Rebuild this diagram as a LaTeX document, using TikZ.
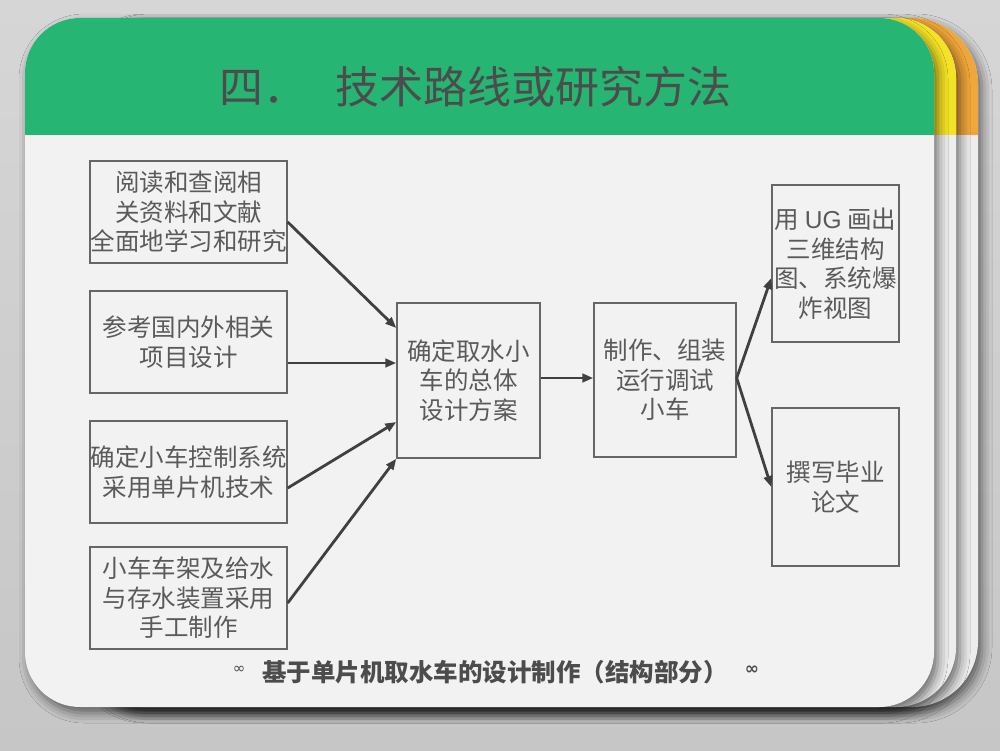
\documentclass[tikz,border=0pt]{standalone}
\usepackage{fontspec}
\newfontfamily\cjk{Noto Sans CJK SC}
\newfontfamily\dejavu{DejaVu Sans}
\setsansfont{Liberation Sans}
\usetikzlibrary{arrows.meta,shadows.blur}
\definecolor{bgtop}{HTML}{D6D6D6}
\definecolor{bgbot}{HTML}{C6C6C6}
\definecolor{cardbody}{HTML}{F2F2F2}
\definecolor{backbody}{HTML}{EDEDED}
\definecolor{hdgreen}{HTML}{26B573}
\definecolor{hdyellow}{HTML}{F3E226}
\definecolor{hdorange}{HTML}{EFA63A}
\definecolor{txtgrey}{HTML}{5A5A5A}
\definecolor{boxline}{HTML}{666666}
\definecolor{arrowgrey}{HTML}{404040}
\definecolor{titlegrey}{HTML}{4C4C4C}
\tikzset{
  cardshadow/.style={blur shadow={shadow xshift=4pt, shadow yshift=-6pt, shadow blur radius=10pt, shadow opacity=55}},
  flowbox/.style={draw=boxline, line width=1.4pt, fill=none, inner sep=0pt,
    align=center, text=txtgrey, font=\cjk\fontsize{24.5}{29.5}\selectfont},
  flowarrow/.style={draw=arrowgrey, line width=2.8pt, -{Triangle[length=11pt,width=8.5pt]}},
}
\begin{document}
\begin{tikzpicture}[x=1pt,y=-1pt]
\useasboundingbox (0,0) rectangle (1000,750);
\shade[top color=bgtop, bottom color=bgbot] (0,0) rectangle (1000,750);

% back card (orange)
\path[cardshadow, fill=backbody, rounded corners=66pt] (80,18) rectangle (978,707);
\begin{scope}
  \clip[rounded corners=66pt] (80,18) rectangle (978,707);
  \fill[hdorange] (0,0) rectangle (1000,135);
\end{scope}
% back card (yellow)
\path[cardshadow, fill=backbody, rounded corners=60pt] (80,18) rectangle (956,707);
\begin{scope}
  \clip[rounded corners=60pt] (80,18) rectangle (956,707);
  \fill[hdyellow] (0,0) rectangle (1000,135);
\end{scope}
% main card
\path[cardshadow, fill=cardbody, rounded corners=55pt] (25,18) rectangle (934,707);
\begin{scope}
  \clip[rounded corners=55pt] (25,18) rectangle (934,707);
  \fill[hdgreen] (0,0) rectangle (1000,135);
\end{scope}

% title
\node[anchor=west, inner sep=0pt, text=titlegrey, font=\cjk\fontsize{44}{44}\selectfont]
  (title) at (219,87) {四．\hspace{28pt}技术路线或研究方法};

% left column
\node[flowbox, minimum width=197pt, minimum height=102pt] (b1) at (188.5,212)
  {阅读和查阅相\\关资料和文献\\全面地学习和研究};
\node[flowbox, minimum width=197pt, minimum height=102pt] (b2) at (188.5,342)
  {参考国内外相关\\项目设计};
\node[flowbox, minimum width=197pt, minimum height=102pt] (b3) at (188.5,472)
  {确定小车控制系统\\采用单片机技术};
\node[flowbox, minimum width=197pt, minimum height=102pt] (b4) at (188.5,598)
  {小车车架及给水\\与存水装置采用\\手工制作};

% middle
\node[flowbox, minimum width=143pt, minimum height=155pt] (c1) at (468.5,380.5)
  {确定取水小\\车的总体\\设计方案};
\node[flowbox, minimum width=142pt, minimum height=154pt] (c2) at (665,380)
  {制作、组装\\运行调试\\小车};

% right column
\node[flowbox, minimum width=127pt, minimum height=157pt] (r1) at (835.5,263.5)
  {用 {\sffamily UG} 画出\\三维结构\\图、系统爆\\炸视图\hspace{12pt}};
\node[flowbox, minimum width=127pt, minimum height=158pt] (r2) at (835.5,487)
  {撰写毕业\\论文};

% arrows
\draw[flowarrow] ([yshift=-10pt]b1.east) -- ([yshift=52.5pt]c1.west);
\draw[flowarrow] ([yshift=-21pt]b2.east) -- ([yshift=17.5pt]c1.west);
\draw[flowarrow] ([yshift=-16pt]b3.east) -- ([yshift=-41.5pt]c1.west);
\draw[flowarrow] ([yshift=-5pt]b4.east) -- (c1.south west);
\draw[flowarrow] ([yshift=2.5pt]c1.east) -- ([yshift=2pt]c2.west);
\coordinate (fork) at ([yshift=2pt]c2.east);
\draw[flowarrow] (fork) -- ([yshift=-14.5pt]r1.west);
\draw[flowarrow] (fork) -- (r2.west);

% footer
\node[anchor=west, inner sep=0pt, text=titlegrey, font=\cjk\bfseries\fontsize{24.5}{24.5}\selectfont]
  (foot) at (262,672) {基于单片机取水车的设计制作（结构部分）};
\node[inner sep=0pt, text=titlegrey, font=\dejavu\fontsize{15}{15}\selectfont] (fl) at (239,670) {∞};
\node[inner sep=0pt, text=titlegrey, font=\dejavu\bfseries\fontsize{17}{17}\selectfont] (fr) at (752,670) {∞};
\end{tikzpicture}
\end{document}
